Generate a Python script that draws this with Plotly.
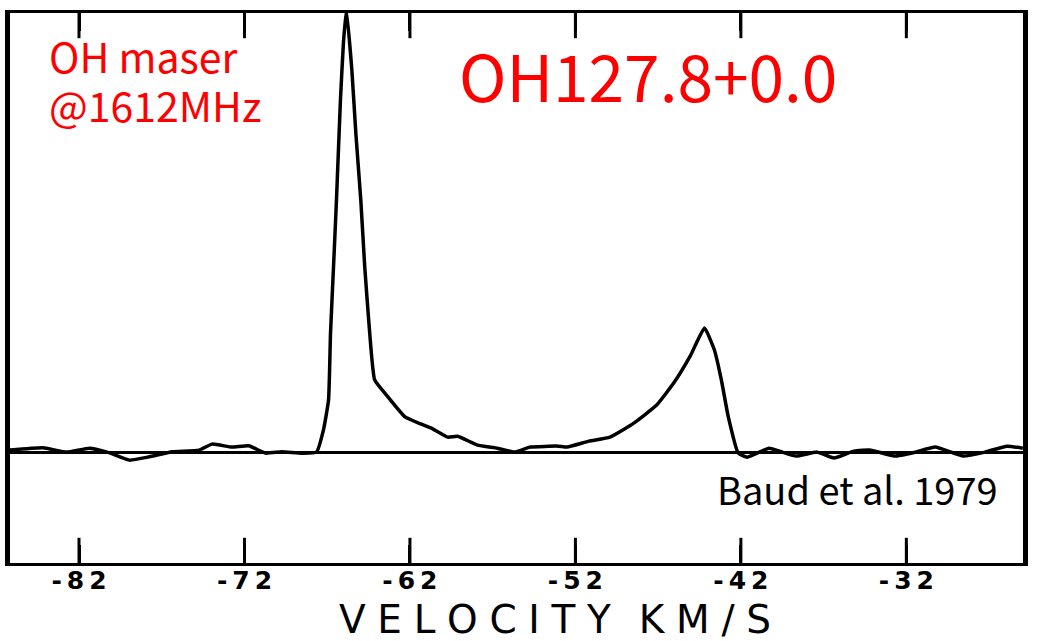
import plotly.graph_objects as go

# Spectrum (velocity in km/s, flux in arbitrary units)
velocity = [-86.2, -84.18, -82.74, -81.36, -80.15, -78.95, -77.75, -76.37, -74.74, -73.96,
            -72.76, -71.74, -70.72, -69.75, -68.55, -67.65, -67.23, -66.92, -66.80, -66.62,
            -66.44, -66.20, -66.02, -65.84, -65.51, -65.27, -64.97, -64.73, -64.43, -64.13,
            -63.32, -62.30, -61.34, -60.74, -59.72, -59.12, -57.92, -56.71, -55.69, -54.72,
            -53.04, -52.50, -51.18, -49.91, -48.47, -47.09, -46.06, -45.04, -44.20, -43.60,
            -43.18, -42.76, -42.16, -41.61, -40.30, -39.50, -38.66, -37.40, -36.37, -35.17,
            -34.15, -32.71, -31.45, -30.25, -28.56, -27.24, -25.92, -24.96]
flux = [0.45, 0.98, 0.0, 0.9, -0.16, -1.82, -1.07, 0.07, 0.45, 1.82,
        1.14, 1.43, -0.23, 0.07, -0.23, 0.0, 5.0, 11.8, 27.0, 42.0,
        57.3, 80.0, 93.0, 100.5, 86.8, 72.5, 57.3, 42.0, 27.0, 16.4,
        12.5, 8.0, 6.4, 5.5, 3.4, 3.6, 1.6, 0.9, 0.0, 1.14,
        1.36, 1.14, 2.5, 3.4, 6.6, 10.7, 15.7, 22.0, 28.2, 23.2,
        16.4, 8.0, -0.23, -1.14, 0.9, 0.0, -0.9, 0.0, -1.36, 0.23,
        0.45, -0.9, 0.0, 1.14, -0.9, 0.0, 1.36, 0.9]

tick_values = [-82, -72, -62, -52, -42, -32]
tick_labels = ["-82", "-72", "-62", "-52", "-42", "-32"]
x_range = [-86.17, -24.95]
y_range = [-25.2, 99.8]

W, H = 1038, 641
ML, MR, MT, MB = 10, 10, 13, 78
TICK_LEN = 18

def px(x):
    return (x - ML) / (W - ML - MR)

def py(y):
    return (H - MB - y) / (H - MT - MB)

def spaced(s, sep="\u2009"):
    return sep.join(list(s))

fig = go.Figure()
fig.add_trace(go.Scatter(
    x=velocity, y=flux, mode="lines",
    line=dict(color="black", width=3.5, shape="spline", smoothing=0.4),
    showlegend=False,
))

# inside tick marks on the bottom and top frame: vertical-line markers centred on
# the frame edges, half of each clipped away by the plot area
for edge in (y_range[0], y_range[1]):
    fig.add_trace(go.Scatter(
        x=tick_values, y=[edge] * len(tick_values), mode="markers",
        marker=dict(symbol="line-ns", size=2 * TICK_LEN,
                    line=dict(width=3, color="black")),
        cliponaxis=True, hoverinfo="skip", showlegend=False,
    ))

fig.update_layout(
    width=W, height=H,
    margin=dict(l=ML, r=MR, t=MT, b=MB),
    plot_bgcolor="white",
    showlegend=False,
    xaxis=dict(
        range=x_range, showgrid=False, zeroline=False,
        showline=True, linecolor="black", linewidth=3, mirror="ticks",
        ticks="inside", ticklen=TICK_LEN, tickwidth=3, tickcolor="black",
        tickvals=tick_values, ticktext=[spaced(t) for t in tick_labels],
        ticklabelstandoff=-7,
        tickfont=dict(family="DejaVu Sans", size=25, color="black", weight="bold"),
    ),
    yaxis=dict(
        range=y_range, showgrid=False, showticklabels=False,
        zeroline=True, zerolinecolor="black", zerolinewidth=3,
        showline=True, linecolor="black", linewidth=5, mirror=True,
    ),
)

title_text = spaced("VELOCITY", "\u2009\u200a") + "\u2009 \u2009" + spaced("KM/S", "\u2009\u200a")
fig.add_annotation(text=title_text, xref="paper", yref="paper",
                   x=px(558), y=py(619), xanchor="center", yanchor="middle",
                   showarrow=False,
                   font=dict(family="DejaVu Sans", size=39, color="black"))

red_font = "Noto Sans CJK JP"
fig.add_annotation(text="OH maser", xref="paper", yref="paper",
                   x=px(47), y=py(55), xanchor="left", yanchor="middle",
                   showarrow=False, font=dict(family=red_font, size=41, color="red"))
fig.add_annotation(text="@1612MHz", xref="paper", yref="paper",
                   x=px(47), y=py(104), xanchor="left", yanchor="middle",
                   showarrow=False, font=dict(family=red_font, size=41, color="red"))
fig.add_annotation(text="OH127.8+0.0", xref="paper", yref="paper",
                   x=px(651), y=py(74), xanchor="center", yanchor="middle",
                   showarrow=False, font=dict(family=red_font, size=64, color="red"))
fig.add_annotation(text="Baud et al. 1979", xref="paper", yref="paper",
                   x=px(1005), y=py(488), xanchor="right", yanchor="middle",
                   showarrow=False, font=dict(family=red_font, size=38, color="black"))

fig.write_html("out.html", config={"displayModeBar": False},
               post_script="document.body.style.margin='0';document.body.style.overflow='hidden';")
